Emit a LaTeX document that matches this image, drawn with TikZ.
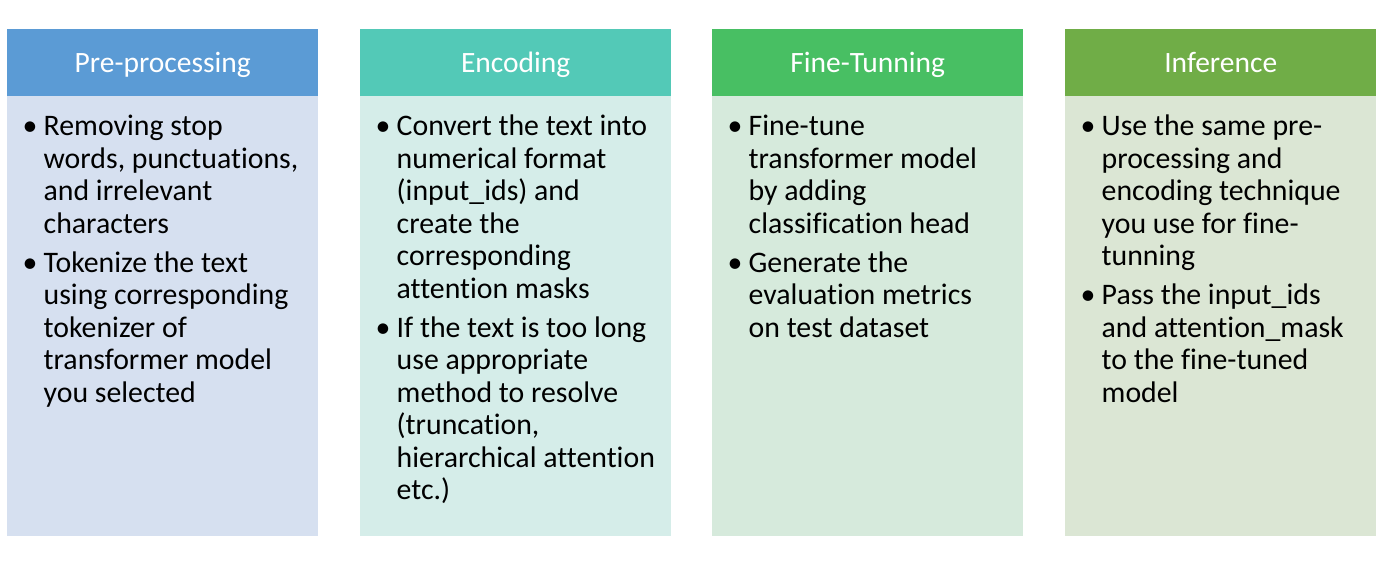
\documentclass[tikz,border=0pt]{standalone}
\usepackage{fontspec}
\setmainfont[Ligatures=NoCommon]{Carlito}
\definecolor{hdA}{RGB}{91,155,213}
\definecolor{bdA}{RGB}{214,224,240}
\definecolor{hdB}{RGB}{83,201,183}
\definecolor{bdB}{RGB}{213,237,233}
\definecolor{hdC}{RGB}{72,191,99}
\definecolor{bdC}{RGB}{214,234,220}
\definecolor{hdD}{RGB}{112,173,71}
\definecolor{bdD}{RGB}{219,230,212}
\newcommand{\bul}{\makebox[21pt][l]{•}}
\newcommand{\gap}{\\[6.8pt]}
\begin{document}
\begin{tikzpicture}[x=1pt,y=-1pt,
  hdr/.style={fill=#1, draw=none, anchor=north west, inner sep=0pt,
    minimum width=311pt, minimum height=67pt, text height=19.6pt, text depth=0pt,
    text=white, font=\fontsize{29.5}{32.5}\selectfont},
  panel/.style={fill=#1, draw=none, anchor=north west, inner sep=0pt,
    minimum width=311pt, minimum height=440pt},
  items/.style={anchor=base west, inner sep=0pt, text=black,
    font=\fontsize{29.8}{32.5}\selectfont}]
\useasboundingbox (0,0) rectangle (1384,571);

% column panels
\node[panel=bdA] (pA) at (7,96) {};
\node[panel=bdB] (pB) at (360,96) {};
\node[panel=bdC] (pC) at (712,96) {};
\node[panel=bdD] (pD) at (1065,96) {};

% column headers
\node[hdr=hdA] (hA) at (7,29) {Pre-processing};
\node[hdr=hdB] (hB) at (360,29) {Encoding};
\node[hdr=hdC] (hC) at (712,29) {Fine-Tunning};
\node[hdr=hdD] (hD) at (1065,29) {Inference};

% bullet lists
\node[items] (tA) at (22.5,135.5) {\begin{tabular}[t]{@{}l@{}l@{}}
\bul & Removing stop\\
 & words, punctuations,\\
 & and irrelevant\\
 & characters\gap
\bul & Tokenize the text\\
 & using corresponding\\
 & tokenizer of\\
 & transformer model\\
 & you selected
\end{tabular}};

\node[items] (tB) at (375.5,135.5) {\begin{tabular}[t]{@{}l@{}l@{}}
\bul & Convert the text into\\
 & numerical format\\
 & (input\_ids) and\\
 & create the\\
 & corresponding\\
 & attention masks\gap
\bul & If the text is too long\\
 & use appropriate\\
 & method to resolve\\
 & (truncation,\\
 & hierarchical attention\\
 & etc.)
\end{tabular}};

\node[items] (tC) at (727.5,135.5) {\begin{tabular}[t]{@{}l@{}l@{}}
\bul & Fine-tune\\
 & transformer model\\
 & by adding\\
 & classification head\gap
\bul & Generate the\\
 & evaluation metrics\\
 & on test dataset
\end{tabular}};

\node[items] (tD) at (1080.5,135.5) {\begin{tabular}[t]{@{}l@{}l@{}}
\bul & Use the same pre-\\
 & processing and\\
 & encoding technique\\
 & you use for fine-\\
 & tunning\gap
\bul & Pass the input\_ids\\
 & and attention\_mask\\
 & to the fine-tuned\\
 & model
\end{tabular}};
\end{tikzpicture}
\end{document}
